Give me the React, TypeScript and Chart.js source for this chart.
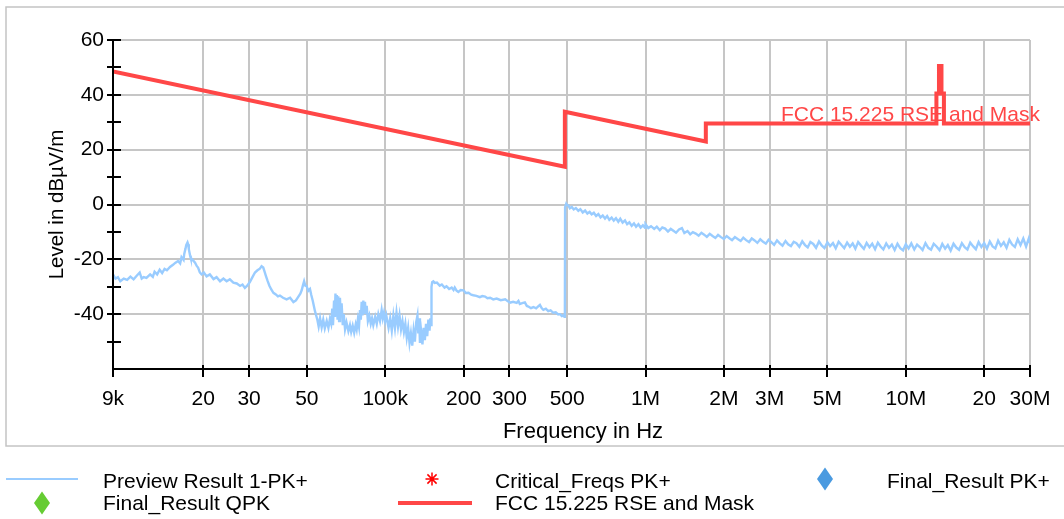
import { useEffect, useRef } from "react";
import { Chart, registerables } from "chart.js";

Chart.register(...registerables);

// ---------- axis ticks ----------
const X_TICKS = [9e3, 2e4, 3e4, 5e4, 1e5, 2e5, 3e5, 5e5, 1e6, 2e6, 3e6, 5e6, 1e7, 2e7, 3e7];
const X_TICK_LABELS = ["9k", "20", "30", "50", "100k", "200", "300", "500", "1M", "2M", "3M", "5M", "10M", "20", "30M"];
const Y_MIN = -60;
const Y_MAX = 60;
const Y_STEP = 10;
const Y_LABELED = [60, 40, 20, 0, -20, -40];

// ---------- limit line (FCC 15.225 RSE and Mask) ----------
const LIMIT_FREQ_HZ = [9e3, 490e3, 490e3, 1.705e6, 1.705e6, 13.11e6, 13.11e6, 13.41e6, 13.41e6, 13.71e6, 13.71e6, 14.01e6, 14.01e6, 30e6];
const LIMIT_DB = [48.5, 13.8, 33.8, 23.0, 29.5, 29.5, 40.5, 40.5, 50.5, 50.5, 40.5, 40.5, 29.5, 29.5];

// ---------- preview trace, [kHz, dBuV/m] ----------
const PREVIEW_9K_55K: [number, number][] = [
  [9.0, -25.5], [9.2, -27], [9.4, -26.5], [9.6, -28], [9.9, -27], [10.2, -27.5], [10.5, -26.3],
  [10.8, -27.3], [11.1, -26], [11.4, -24.8], [11.6, -27], [11.8, -26.5], [12.1, -26.8], [12.5, -25.5],
  [12.8, -26.4], [13.0, -24.5], [13.3, -25.5], [13.6, -23.8], [13.9, -25], [14.2, -23.5], [14.5, -24],
  [14.9, -22.8], [15.3, -22], [15.6, -21.3], [16.0, -20.6], [16.3, -21.5], [16.5, -19.2], [16.8, -20.2],
  [16.9, -18], [17.1, -16], [17.2, -14.8], [17.4, -13.8], [17.5, -14.5], [17.6, -16.3], [17.8, -18.6],
  [17.9, -19.5], [18.2, -20.2], [18.6, -21.2], [18.9, -22.5], [19.1, -23], [19.4, -24.8], [19.7, -25.5],
  [20.1, -24.8], [20.6, -26.2], [21.2, -25.5], [21.9, -27.2], [22.5, -26.5], [23.2, -28], [23.9, -27],
  [24.6, -28], [25.3, -27.3], [26.1, -28.5], [26.9, -28.8], [27.7, -29.7], [28.3, -29.2], [28.9, -30.4],
  [29.5, -29.6], [30.2, -28.3], [30.9, -26.5], [31.6, -24.8], [32.3, -24], [33.0, -23.4], [33.5, -22.5],
  [34.0, -23], [34.4, -24.5], [34.8, -26], [35.3, -27.8], [35.9, -29.6], [36.5, -31], [37.2, -32.2],
  [38.0, -32.8], [38.7, -33.5], [39.4, -33.2], [40.5, -34], [41.8, -34.6], [43.1, -34], [44.4, -35.6],
  [45.4, -35], [46.4, -33.6], [47.2, -32.5], [47.8, -31.2], [48.3, -29.5], [48.8, -28], [49.3, -29.6],
  [49.9, -29.8], [50.6, -31.5], [51.4, -30.8], [52.0, -33], [52.7, -35.2], [53.2, -37], [53.7, -38.8],
  [54.3, -40.5], [54.8, -41.8],
];

const PREVIEW_55K_150K: [number, number][] = [
  [55.5, -44.5], [56.2, -41.5], [57.0, -44.8], [57.8, -42], [58.6, -45.2], [59.6, -42.5], [60.5, -45],
  [61.3, -41.8], [62.0, -43.5], [62.6, -38], [63.0, -44], [63.6, -35], [64.0, -41], [64.4, -32.5],
  [64.8, -40.5], [65.2, -33], [65.6, -42], [66.0, -33.5], [66.5, -42.5], [67.0, -34], [67.5, -41],
  [68.0, -36], [68.7, -44], [69.3, -40], [70.1, -45.5], [71.0, -43], [72.2, -46.2], [73.2, -44],
  [74.0, -46.5], [75.0, -44.2], [76.0, -46.8], [77.0, -43.8], [77.7, -45.5], [78.5, -42], [79.3, -44.5],
  [80.0, -38.5], [80.6, -42], [81.2, -35.5], [81.8, -40.5], [82.4, -35], [82.9, -39.5], [83.6, -35.5],
  [84.2, -40], [84.9, -37], [85.8, -42.5], [86.9, -40.5], [88.0, -43.5], [89.0, -41.5], [90.0, -44],
  [91.5, -41], [92.8, -43.5], [94.1, -40], [95.5, -42.5], [96.9, -38.5], [97.9, -41.5], [98.9, -39.5],
  [100.0, -42.5], [101.0, -40.5], [103.0, -45], [104.5, -41.5], [106.0, -46], [107.5, -40.5], [109.0, -45],
  [110.5, -39.5], [112.0, -44.5], [113.5, -40.5], [115.0, -45.5], [116.5, -42.5], [118.0, -46.5],
  [119.5, -43.5], [121.0, -48.5], [122.5, -45], [124.0, -50.5], [125.5, -47], [127.0, -51.5], [128.5, -46],
  [130.0, -50], [131.5, -43], [133.0, -40.5], [134.0, -47], [135.0, -41.5], [136.0, -50.5], [137.5, -46.5],
  [139.0, -51], [140.5, -45], [142.0, -49.5], [143.5, -43.5], [145.0, -48], [146.5, -42], [148.0, -46],
  [149.0, -41.5], [150.0, -44],
];

const PREVIEW_150K_490K: [number, number][] = [
  [150.6, -30], [151.5, -28.3], [153, -28.0], [155, -28.6], [158, -28.5], [162, -29.6], [165, -29.2],
  [169, -30.3], [172, -29.8], [176, -30.8], [180, -30.3], [183, -31.2], [185, -30.3], [188, -31.4],
  [191, -31.9], [195, -31.2], [200, -31.3], [204, -32.3], [209, -32.2], [214, -32.9], [218, -33.1],
  [224, -33.3], [231, -33.8], [236, -33.4], [242, -33.6], [247, -34.2], [253, -34.0], [260, -34.6],
  [268, -34.3], [278, -34.9], [289, -34.6], [296, -35.3], [302, -35.8], [310, -35.5], [320, -35.9],
  [325, -35.2], [329, -36.3], [336, -36.0], [344, -35.7], [350, -37.0], [355, -37.2], [363, -37.8],
  [371, -37.4], [380, -37.9], [387, -37.2], [393, -36.6], [399, -37.8], [405, -38.4], [414, -38.0],
  [423, -38.9], [432, -38.6], [442, -39.5], [452, -39.3], [462, -40.1], [470, -40.0], [477, -40.7],
  [483, -40.5], [488, -41.0], [490, -40.8],
];

const PREVIEW_490K_1M: [number, number][] = [
  [491, -1.0], [496, 0.3], [500, -0.2], [505, -0.3], [512, -1.4], [521, -0.9], [530, -1.8], [540, -1.3],
  [552, -2.3], [562, -1.7], [574, -2.9], [586, -2.2], [598, -3.3], [610, -2.7], [621, -3.6], [633, -3.0],
  [646, -4.2], [659, -3.5], [672, -4.7], [685, -4.0], [699, -5.1], [712, -4.2], [726, -5.6], [741, -4.8],
  [755, -5.9], [770, -5.0], [786, -6.3], [800, -5.2], [817, -6.6], [834, -5.8], [850, -7.2], [867, -6.5],
  [885, -7.8], [903, -6.9], [920, -8.1], [939, -7.2], [958, -8.4], [977, -7.6], [996, -8.5],
];

const PREVIEW_1M_30M: [number, number][] = [
  [1000, -7.2], [1025, -8.6], [1050, -7.9], [1080, -8.9], [1105, -8.1], [1135, -9.4], [1160, -8.4],
  [1190, -8.8], [1220, -9.9], [1250, -8.9], [1280, -9.6], [1310, -10.3], [1345, -9.1], [1380, -8.6],
  [1410, -10.4], [1450, -9.7], [1485, -10.9], [1520, -10.1], [1560, -10.6], [1600, -11.4], [1640, -10.3],
  [1680, -11.0], [1720, -11.8], [1765, -10.7], [1810, -11.5], [1855, -12.2], [1900, -11.1], [1950, -11.9],
  [2000, -12.6], [2050, -11.5], [2100, -12.3], [2150, -13.0], [2205, -11.9], [2260, -12.6], [2320, -13.3],
  [2375, -12.1], [2435, -13.0], [2500, -13.7], [2560, -12.4], [2625, -13.1], [2690, -14.0], [2760, -12.7],
  [2830, -13.6], [2900, -14.3], [2970, -12.9], [3050, -13.8], [3120, -14.7], [3200, -13.1], [3280, -14.2],
  [3360, -15.0], [3450, -13.3], [3530, -14.5], [3620, -15.2], [3710, -13.6], [3800, -14.1], [3900, -15.4],
  [4000, -13.4], [4100, -14.8], [4200, -15.6], [4300, -13.7], [4410, -14.4], [4520, -15.8], [4640, -13.5],
  [4750, -14.9], [4870, -15.9], [5000, -13.8], [5120, -15.2], [5250, -14.1], [5380, -16.0], [5520, -13.6],
  [5660, -14.8], [5800, -15.9], [5950, -13.9], [6100, -15.4], [6250, -14.2], [6400, -16.1], [6560, -13.7],
  [6730, -15.0], [6900, -16.2], [7070, -14.0], [7250, -15.6], [7430, -14.3], [7620, -16.3], [7810, -13.9],
  [8000, -15.3], [8200, -16.4], [8410, -14.2], [8620, -15.8], [8840, -14.6], [9060, -16.6], [9290, -14.3],
  [9520, -15.9], [9760, -16.7], [10000, -14.5], [10250, -16.0], [10500, -14.2], [10780, -16.4], [11050, -14.6],
  [11320, -15.5], [11600, -16.6], [11900, -14.1], [12200, -15.8], [12500, -16.5], [12800, -14.3], [13150, -15.4],
  [13480, -16.7], [13810, -14.4], [14160, -16.1], [14500, -14.8], [14870, -16.8], [15250, -14.3], [15630, -15.7],
  [16020, -16.5], [16420, -14.1], [16830, -15.6], [17250, -16.4], [17680, -13.9], [18120, -15.2], [18580, -16.3],
  [19040, -13.7], [19520, -15.5], [20000, -14.1], [20500, -16.1], [21020, -13.5], [21550, -15.3], [22080, -16.0],
  [22630, -13.2], [23200, -15.1], [23780, -13.8], [24380, -15.8], [24990, -12.9], [25610, -14.6], [26250, -15.5],
  [26910, -12.7], [27580, -14.8], [28270, -12.4], [28980, -15.3], [29700, -12.3], [30000, -14.0],
];

// ---------- legend / titles ----------
const LEGEND_LABELS = ["Preview Result 1-PK+", "Critical_Freqs PK+", "Final_Result PK+", "Final_Result QPK", "FCC 15.225 RSE and Mask"];
const LIMIT_LABEL = "FCC 15.225 RSE and Mask";
const X_TITLE = "Frequency in Hz";
const Y_TITLE = "Level in dB\u00b5V/m";

const FONT = '"Liberation Sans", Arial, Helvetica, sans-serif';
const BLUE = "#99ccff";
const RED = "#ff4747";
const GRID = "#c6c6c6";

const decorPlugin = {
  id: "decor",
  beforeDraw(chart: any) {
    const ctx = chart.ctx;
    ctx.save();
    ctx.fillStyle = "#ffffff";
    ctx.fillRect(0, 0, chart.width, chart.height);
    ctx.strokeStyle = "#c4c4c4";
    ctx.lineWidth = 1.5;
    ctx.strokeRect(6, 7, chart.width + 10, 439);
    ctx.restore();
  },
  afterDatasetsDraw(chart: any) {
    const { ctx, chartArea: a, scales } = chart;
    const x = scales.x;
    const y = scales.y;
    ctx.save();
    ctx.strokeStyle = "#000";
    ctx.lineWidth = 2;
    ctx.beginPath();
    ctx.moveTo(a.left, a.top);
    ctx.lineTo(a.left, a.bottom);
    ctx.moveTo(a.left, a.bottom);
    ctx.lineTo(a.right, a.bottom);
    for (let v = Y_MIN + Y_STEP; v <= Y_MAX; v += Y_STEP) {
      const py = Math.round(y.getPixelForValue(v));
      ctx.moveTo(a.left - 6, py);
      ctx.lineTo(a.left + 8, py);
    }
    for (const f of X_TICKS) {
      const px = Math.round(x.getPixelForValue(f));
      ctx.moveTo(px, a.bottom - 4);
      ctx.lineTo(px, a.bottom + 8);
    }
    ctx.stroke();

    // limit label
    ctx.fillStyle = RED;
    ctx.font = `21px ${FONT}`;
    ctx.textAlign = "right";
    ctx.textBaseline = "alphabetic";
    ctx.fillText(LIMIT_LABEL, a.right + 10, y.getPixelForValue(29.5) - 3);
    ctx.restore();
  },
  afterDraw(chart: any) {
    const { ctx, chartArea: a } = chart;
    ctx.save();
    ctx.fillStyle = "#000";
    ctx.textBaseline = "alphabetic";
    // x title
    ctx.font = `22px ${FONT}`;
    ctx.textAlign = "center";
    ctx.fillText(X_TITLE, 583, 438);
    // y title
    ctx.font = `20.5px ${FONT}`;
    ctx.save();
    ctx.translate(63, (a.top + a.bottom) / 2);
    ctx.rotate(-Math.PI / 2);
    ctx.fillText(Y_TITLE, 0, 0);
    ctx.restore();

    // legend
    ctx.font = `21px ${FONT}`;
    ctx.textAlign = "left";
    const r1 = 488;
    const r2 = 510;
    ctx.fillText(LEGEND_LABELS[0], 103, r1);
    ctx.fillText(LEGEND_LABELS[1], 495, r1);
    ctx.fillText(LEGEND_LABELS[2], 887, r1);
    ctx.fillText(LEGEND_LABELS[3], 103, r2);
    ctx.fillText(LEGEND_LABELS[4], 495, r2);

    // blue line
    ctx.strokeStyle = BLUE;
    ctx.lineWidth = 2;
    ctx.beginPath();
    ctx.moveTo(6, 479);
    ctx.lineTo(78, 479);
    ctx.stroke();
    // red line
    ctx.strokeStyle = RED;
    ctx.lineWidth = 4;
    ctx.beginPath();
    ctx.moveTo(398, 503);
    ctx.lineTo(472, 503);
    ctx.stroke();
    // asterisk
    ctx.strokeStyle = "#ff0000";
    ctx.lineWidth = 1.5;
    ctx.beginPath();
    const ax = 432, ay = 479, r = 6.5;
    for (let i = 0; i < 4; i++) {
      const ang = (i * Math.PI) / 4 + Math.PI / 2;
      ctx.moveTo(ax + r * Math.cos(ang), ay + r * Math.sin(ang));
      ctx.lineTo(ax - r * Math.cos(ang), ay - r * Math.sin(ang));
    }
    ctx.stroke();
    // diamonds
    const diamond = (cx: number, cy: number, color: string) => {
      ctx.fillStyle = color;
      ctx.beginPath();
      ctx.moveTo(cx, cy - 11.5);
      ctx.lineTo(cx + 8, cy);
      ctx.lineTo(cx, cy + 11.5);
      ctx.lineTo(cx - 8, cy);
      ctx.closePath();
      ctx.fill();
    };
    diamond(825, 479, "#4a9ae0");
    diamond(42, 503, "#66cc33");
    ctx.restore();
  },
};

export default function App() {
  const ref = useRef<HTMLCanvasElement>(null);
  useEffect(() => {
    document.body.style.margin = "0";
    const preview = [
      ...PREVIEW_9K_55K,
      ...PREVIEW_55K_150K,
      ...PREVIEW_150K_490K,
      ...PREVIEW_490K_1M,
      ...PREVIEW_1M_30M,
    ].map(([k, v]) => ({ x: k * 1000, y: v }));
    const limit = LIMIT_FREQ_HZ.map((f, i) => ({ x: f, y: LIMIT_DB[i] }));
    const chart = new Chart(ref.current as HTMLCanvasElement, {
      type: "line",
      data: {
        datasets: [
          {
            label: "FCC 15.225 RSE and Mask",
            data: limit,
            borderColor: RED,
            borderWidth: 4,
            pointRadius: 0,
            tension: 0,
          },
          {
            label: "Preview Result 1-PK+",
            data: preview,
            borderColor: BLUE,
            borderWidth: 2.4,
            pointRadius: 0,
            tension: 0,
          },
        ],
      },
      plugins: [decorPlugin],
      options: {
        responsive: false,
        animation: false,
        events: [],
        layout: { padding: { left: 0, top: 40, right: 34, bottom: 0 } },
        plugins: { legend: { display: false }, tooltip: { enabled: false }, title: { display: false } },
        scales: {
          x: {
            type: "logarithmic",
            min: 9e3,
            max: 3e7,
            afterFit: (s: any) => {
              s.height = 150;
              s.paddingLeft = 0;
              s.paddingRight = 0;
            },
            afterBuildTicks: (s: any) => {
              s.ticks = X_TICKS.map((v) => ({ value: v }));
            },
            border: { display: false },
            grid: { color: GRID, lineWidth: 2, drawTicks: false },
            ticks: {
              autoSkip: false,
              maxRotation: 0,
              padding: 18,
              color: "#000",
              font: { family: FONT, size: 21 },
              callback: (v: any) => {
                const i = X_TICKS.indexOf(Number(v));
                return i >= 0 ? X_TICK_LABELS[i] : "";
              },
            },
          },
          y: {
            type: "linear",
            min: Y_MIN,
            max: Y_MAX,
            afterFit: (s: any) => {
              s.width = 113;
              s.paddingTop = 0;
              s.paddingBottom = 0;
            },
            border: { display: false },
            grid: { color: GRID, lineWidth: 2, drawTicks: false },
            ticks: {
              stepSize: Y_STEP,
              padding: 9,
              color: "#000",
              font: { family: FONT, size: 21 },
              callback: (v: any) => (Y_LABELED.includes(Number(v)) ? String(v) : ""),
            },
          },
        },
      },
    });
    return () => chart.destroy();
  }, []);
  return (
    <div style={{ width: 1064, height: 519 }}>
      <canvas ref={ref} width={1064} height={519} style={{ display: "block", width: 1064, height: 519 }} />
    </div>
  );
}
